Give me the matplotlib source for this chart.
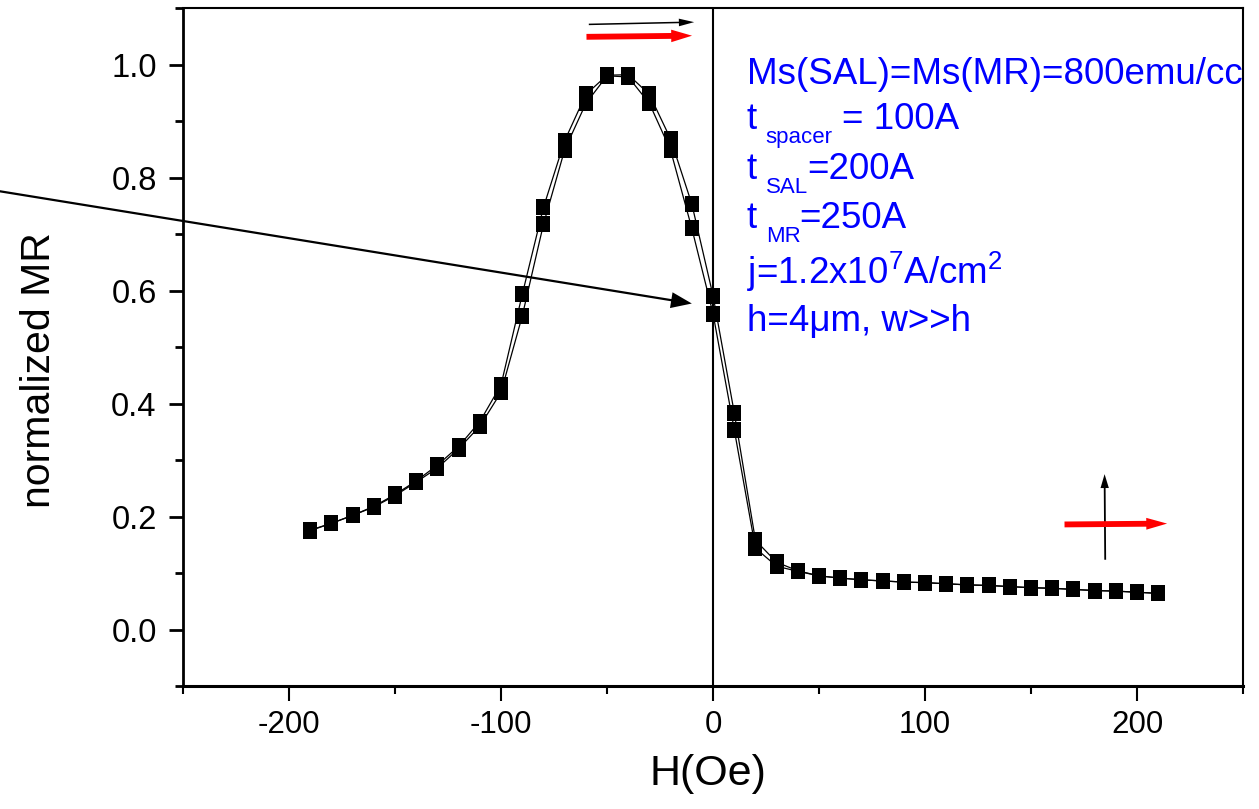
"""
normalized MR vs H(Oe) - SAL/MR 구조 자기저항 곡선 재현
"""

import matplotlib
matplotlib.use("Agg")
import matplotlib.pyplot as plt
from matplotlib.ticker import MultipleLocator

# ── 폰트 설정 ─────────────────────────────────────
plt.rcParams["font.family"] = ["Liberation Sans", "DejaVu Sans"]
plt.rcParams["mathtext.fontset"] = "custom"
plt.rcParams["mathtext.rm"] = "Liberation Sans"
plt.rcParams["mathtext.default"] = "regular"
plt.rcParams["axes.unicode_minus"] = False

# ── 데이터 ──────────────────────────────────
field = [-190, -180, -170, -160, -150, -140, -130, -120, -110, -100,
         -90, -80, -70, -60, -50, -40, -30, -20, -10, 0,
         10, 20, 30, 40, 50, 60, 70, 80, 90, 100,
         110, 120, 130, 140, 150, 160, 170, 180, 190, 200, 210]

mr_upper = [0.176, 0.188, 0.202, 0.218, 0.239, 0.263, 0.291, 0.324, 0.368, 0.433,
            0.593, 0.747, 0.865, 0.947, 0.981, 0.982, 0.947, 0.868, 0.753, 0.591,
            0.384, 0.158, 0.119, 0.104, 0.095, 0.091, 0.088, 0.086, 0.084, 0.083,
            0.081, 0.079, 0.078, 0.076, 0.074, 0.073, 0.071, 0.069, 0.068, 0.066, 0.064]

mr_lower = [0.175, 0.188, 0.202, 0.217, 0.237, 0.261, 0.286, 0.320, 0.360, 0.420,
            0.555, 0.717, 0.849, 0.931, 0.980, 0.978, 0.931, 0.848, 0.710, 0.559,
            0.354, 0.144, 0.112, 0.103, 0.095, 0.091, 0.088, 0.086, 0.084, 0.083,
            0.081, 0.079, 0.078, 0.076, 0.074, 0.073, 0.071, 0.069, 0.068, 0.066, 0.064]

x_ticks = [-200, -100, 0, 100, 200]
y_ticks = [0.0, 0.2, 0.4, 0.6, 0.8, 1.0]

# 주석 블록: (텍스트, x, y, 크기) - 아래첨자는 따로 배치
info_pieces = [
    ("Ms(SAL)=Ms(MR)=800emu/cc", 16.0, 0.965, 26.5),
    ("t", 16.0, 0.886, 26.5),
    ("spacer", 24.6, 0.861, 16),
    ("= 100A", 60.7, 0.886, 26.5),
    ("t", 16.0, 0.798, 26.5),
    ("SAL", 25.1, 0.773, 16),
    ("=200A", 44.5, 0.798, 26.5),
    ("t", 16.0, 0.711, 26.5),
    ("MR", 25.1, 0.685, 16),
    ("=250A", 40.6, 0.711, 26.5),
    ("j=1.2x10$^7$A/cm$^2$", 16.0, 0.611, 26.5),
    ("h=4\u03bcm, w>>h", 16.0, 0.529, 26.5),
]

# ── 그림 ─────────────────────────────────────────
fig = plt.figure(figsize=(12.59, 8.09), dpi=100)
ax = fig.add_axes([0.1454, 0.152, 0.8419, 0.8381])

# 세로로 약간 긴 사각형 마커
rect = [(-1, -1.1), (1, -1.1), (1, 1.1), (-1, 1.1), (-1, -1.1)]

ax.plot(field, mr_upper, color="black", linewidth=0.9, zorder=2)
ax.plot(field, mr_lower, color="black", linewidth=0.9, zorder=2)
ax.plot(field, mr_upper, linestyle="none", marker=rect, markersize=11.6,
        color="black", markeredgewidth=0, zorder=3)
ax.plot(field, mr_lower, linestyle="none", marker=rect, markersize=11.6,
        color="black", markeredgewidth=0, zorder=3)

ax.axvline(0, color="black", linewidth=1.5, zorder=1)

ax.set_xlim(-250, 250)
ax.set_ylim(-0.1, 1.1)
ax.set_xticks(x_ticks)
ax.set_yticks(y_ticks)
ax.set_yticklabels([f"{v:.1f}" for v in y_ticks])
ax.xaxis.set_minor_locator(MultipleLocator(50))
ax.yaxis.set_minor_locator(MultipleLocator(0.1))

ax.tick_params(axis="x", which="major", direction="out", length=11, width=1.5,
               labelsize=22.5, pad=6)
ax.tick_params(axis="x", which="minor", direction="out", length=6, width=1.5)
ax.tick_params(axis="y", which="major", direction="out", length=10, width=2,
               labelsize=23.5, pad=9)
ax.tick_params(axis="y", which="minor", direction="out", length=6, width=2)

ax.spines["left"].set_linewidth(2)
ax.spines["bottom"].set_linewidth(2.2)
ax.spines["top"].set_linewidth(1.5)
ax.spines["right"].set_linewidth(1.5)

ax.set_xlabel("H(Oe)", fontsize=31)
ax.set_ylabel("normalized MR", fontsize=29.5)
ax.xaxis.set_label_coords(0.4953, -0.1)
ax.yaxis.set_label_coords(-0.118, 0.466)

# ── 주석 텍스트 ───────────────────────────────────
for text, xv, yv, size in info_pieces:
    ax.text(xv, yv, text, color="#0000FF", fontsize=size, ha="left",
            va="baseline", clip_on=False)

# ── 화살표 ───────────────────────────────────────
def arrow(ax, start, end, color, tail, head_w, head_l):
    style = f"simple,tail_width={tail},head_width={head_w},head_length={head_l}"
    ax.annotate("", xy=end, xytext=start, annotation_clip=False,
                arrowprops=dict(arrowstyle=style, color=color, lw=0,
                                shrinkA=0, shrinkB=0, mutation_scale=10))

# 긴 검정 화살표 (왼쪽 바깥 → 0 근처)
arrow(ax, (-337, 0.776), (-10, 0.577), "black", 0.16, 1.15, 1.5)
# 위쪽 화살표 쌍
arrow(ax, (-58.6, 1.071), (-8.9, 1.075), "black", 0.11, 0.55, 1.1)
arrow(ax, (-59.7, 1.049), (-9.9, 1.051), "#FF0000", 0.42, 0.9, 1.5)
# 오른쪽 아래 화살표 쌍
arrow(ax, (185.0, 0.1235), (184.7, 0.275), "black", 0.13, 0.6, 1.0)
arrow(ax, (165.8, 0.186), (214.2, 0.1875), "#FF0000", 0.42, 0.85, 1.5)

plt.savefig("out.png", dpi=100)
